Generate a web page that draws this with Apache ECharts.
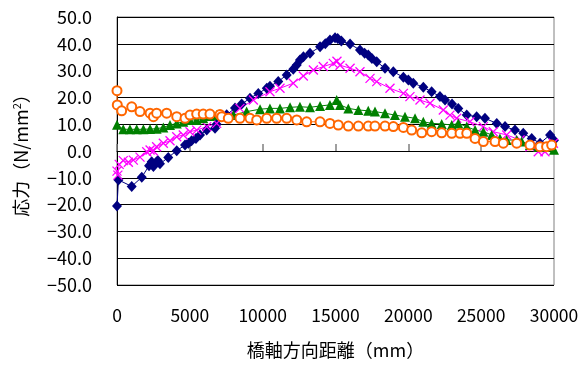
<!DOCTYPE html>
<html>
<head>
<meta charset="utf-8">
<script src="https://cdn.jsdelivr.net/npm/echarts@6/dist/echarts.min.js"></script>
<style>html,body{margin:0;padding:0;background:#fff}#c{width:582px;height:365px}</style>
</head>
<body>
<div id="c"></div>
<script>
var yTicks = [-50, -40, -30, -20, -10, 0, 10, 20, 30, 40, 50];
var xTicks = [0, 5000, 10000, 15000, 20000, 25000, 30000];

var navyX = [0,100,1010,1700,2200,2380,2500,2650,2800,2950,3520,4100,4670,4900,5120,5420,5700,6160,6730,6840,7530,8100,8560,9130,9700,10280,10500,11070,11650,12100,12340,12560,12800,13250,13940,14300,14620,14970,15150,15400,16000,16680,17000,17250,17500,17830,18400,18970,19660,20000,20340,21030,21600,22170,22520,23000,23430,24010,24690,25260,26070,26640,27320,27890,28470,29040,29730,30000];
var navyY = [-20.5,-10.8,-13.2,-9.8,-5.5,-4.0,-5.8,-4.5,-3.5,-4.8,-2.4,0.1,2.2,2.9,3.8,4.7,6.0,7.8,8.5,10.0,13.5,16.0,17.5,19.7,21.5,23.4,24.2,25.9,28.4,30.5,32.1,34.0,35.2,36.5,38.9,40.0,41.4,42.3,42.0,41.0,39.9,37.7,36.5,35.8,34.5,33.3,30.9,29.6,27.5,26.5,25.3,23.8,22.1,20.3,19.0,17.5,15.9,13.4,12.8,12.2,10.3,9.1,7.8,6.6,4.7,2.9,6.0,4.0];

var magX = [0,60,150,430,780,1120,1580,2040,2270,2500,2720,3180,3640,4100,4550,5010,5470,6160,6840,7600,8440,9360,10500,11190,12100,12790,13480,14160,14850,15100,15310,16000,16680,17370,17830,18740,19660,20110,20800,21490,22400,22860,23320,24230,25150,25830,26750,27670,28350,28920,29380,29730,29960];
var magY = [-7.5,-9.0,-5.0,-3.6,-4.2,-3.4,-2.3,-0.3,0.4,0.0,1.6,2.9,3.8,5.3,6.0,7.2,7.8,9.1,10.3,13.0,15.9,19.0,22.1,23.4,25.3,28.0,30.2,31.5,32.7,33.5,32.0,30.9,29.6,27.1,25.9,23.4,21.5,20.3,19.0,17.8,15.3,13.4,12.2,10.9,9.1,7.2,6.0,4.1,1.6,-0.3,-0.3,1.6,2.9];

var greenX = [0,430,890,1350,1810,2270,2720,3180,3640,4100,4550,5010,5470,5920,6380,6840,7990,8900,9820,10500,11190,11880,12560,13250,13940,14620,15080,15310,15880,16570,17250,17710,18400,19080,19770,20460,21030,21600,22290,22980,23430,24010,24580,25150,25720,26290,26750,27440,27780,28350,28920,29490,30000];
var greenY = [9.8,8.1,8.1,8.1,8.1,8.2,8.3,8.8,9.7,10.3,10.9,11.6,11.6,12.2,13.1,13.4,13.4,14.7,15.6,15.9,15.9,16.3,16.5,16.3,16.8,17.2,19.0,17.2,15.9,15.3,15.0,14.7,14.1,13.4,12.8,12.2,10.9,10.3,10.1,9.7,10.3,9.1,7.8,7.2,6.0,4.7,4.1,4.1,3.5,2.2,1.6,1.6,0.5];

var orangeX = [0,20,320,1010,1580,2270,2500,2720,3410,4100,4670,5010,5470,5920,6380,7070,7190,7640,8440,9130,9590,10280,10960,11650,12340,13020,13940,14620,15190,15880,16570,17250,17710,18400,18970,19660,20230,20920,21600,22290,22980,23550,24010,24580,25150,25950,26520,27440,28350,29040,29490,29840];
var orangeY = [22.5,17.2,15.0,16.5,14.7,14.1,12.8,14.1,14.1,12.8,12.2,13.4,13.8,13.8,13.8,13.6,12.8,12.2,12.2,12.2,11.6,12.2,12.2,12.2,11.6,10.9,10.9,10.3,9.7,9.3,9.3,9.3,9.3,9.3,9.1,8.8,7.8,6.8,7.2,6.8,6.6,6.6,6.6,4.7,3.5,3.5,2.9,2.9,2.2,1.6,1.6,2.2];

function pairs(xs, ys) { return xs.map(function (x, i) { return [x, ys[i]]; }); }

var FONT = '"Noto Sans CJK JP", "Noto Sans", sans-serif';
var chart = echarts.init(document.getElementById('c'), null, { renderer: 'canvas' });
chart.setOption({
  animation: false,
  backgroundColor: '#fff',
  textStyle: { fontFamily: FONT },
  grid: { left: 117, right: 28, top: 17, bottom: 80, show: true, borderColor: '#808080', borderWidth: 1, backgroundColor: 'transparent' },
  xAxis: [{
    type: 'value', min: xTicks[0], max: xTicks[xTicks.length - 1], interval: xTicks[1] - xTicks[0],
    position: 'bottom',
    axisLine: { show: false, onZero: false },
    axisTick: { show: false },
    splitLine: { show: false },
    axisLabel: { color: '#000', fontSize: 17.5, fontFamily: FONT, margin: 22,
      formatter: function (v) { return String(v); } },
    name: '橋軸方向距離（mm）', nameLocation: 'middle', nameGap: 56,
    nameTextStyle: { color: '#000', fontSize: 18, fontFamily: FONT }
  }, {
    type: 'value', min: xTicks[0], max: xTicks[xTicks.length - 1], interval: xTicks[1] - xTicks[0],
    position: 'top',
    axisLine: { show: true, onZero: true, lineStyle: { color: '#000', width: 1 } },
    axisTick: { show: true, length: 7, lineStyle: { color: '#808080', width: 1.5 } },
    axisLabel: { show: false },
    splitLine: { show: false }
  }],
  yAxis: {
    type: 'value', min: yTicks[0], max: yTicks[yTicks.length - 1], interval: yTicks[1] - yTicks[0],
    axisLine: { show: true, onZero: false, lineStyle: { color: '#000', width: 1 } },
    axisTick: { show: false },
    splitLine: { show: true, lineStyle: { color: '#000', width: 1 } },
    axisLabel: {
      color: '#000', fontSize: 18, fontFamily: FONT, margin: 25,
      formatter: function (v) { return v.toFixed(1).replace('-', '\u2212'); }
    },
    name: '応力（N/mm{sup|2}）', nameLocation: 'middle', nameGap: 86, nameRotate: 90,
    nameTextStyle: {
      color: '#000', fontSize: 18, fontFamily: FONT,
      rich: { sup: { fontSize: 11, color: '#000', fontFamily: FONT, padding: [0, 0, 9, 0] } }
    }
  },
  series: [{
    type: 'line', data: pairs(navyX, navyY), xAxisIndex: 0,
    symbol: 'diamond', symbolSize: [10, 11], showAllSymbol: true,
    lineStyle: { color: '#000080', width: 1 },
    itemStyle: { color: '#000080', borderWidth: 0 }
  }, {
    type: 'line', data: pairs(magX, magY), xAxisIndex: 0,
    symbol: 'path://M0,0L10,10M10,0L0,10', symbolSize: 9, showAllSymbol: true,
    lineStyle: { color: '#FF00FF', width: 1 },
    itemStyle: { color: 'none', borderColor: '#FF00FF', borderWidth: 1.3 }
  }, {
    type: 'line', data: pairs(greenX, greenY), xAxisIndex: 0,
    symbol: 'triangle', symbolSize: 10, showAllSymbol: true,
    lineStyle: { color: '#008000', width: 1 },
    itemStyle: { color: '#008000', borderWidth: 0 }
  }, {
    type: 'line', data: pairs(orangeX, orangeY), xAxisIndex: 0,
    symbol: 'emptyCircle', symbolSize: 9, showAllSymbol: true,
    lineStyle: { color: '#FF6600', width: 1 },
    itemStyle: { color: '#FF6600', borderColor: '#FF6600', borderWidth: 1.2 }
  }]
});
</script>
</body>
</html>
